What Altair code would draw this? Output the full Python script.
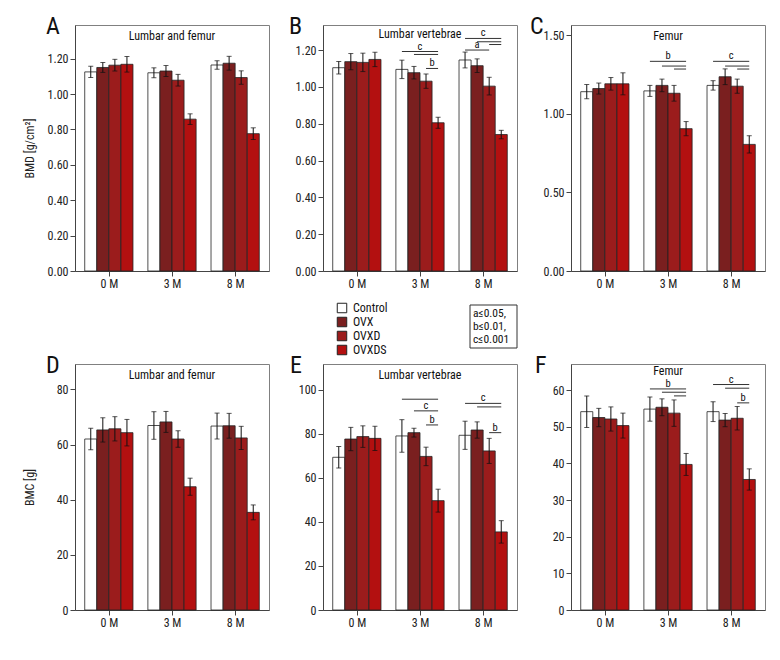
import altair as alt
import pandas as pd

# ---------------- data ----------------
times = ["0 M", "3 M", "8 M"]
groups = ["Control", "OVX", "OVXD", "OVXDS"]
colors = ["#ffffff", "#7a1f1f", "#9b1c1c", "#b31010"]

# means / errors: one list per time point, values in order of `groups`
A_mean = [[1.125, 1.150, 1.163, 1.168], [1.120, 1.130, 1.078, 0.858], [1.164, 1.174, 1.093, 0.776]]
A_err = [[0.032, 0.028, 0.033, 0.044], [0.028, 0.031, 0.033, 0.030], [0.024, 0.039, 0.038, 0.033]]
B_mean = [[1.104, 1.137, 1.133, 1.149], [1.095, 1.077, 1.031, 0.805], [1.146, 1.115, 1.004, 0.741]]
B_err = [[0.034, 0.044, 0.050, 0.039], [0.050, 0.034, 0.039, 0.030], [0.043, 0.037, 0.048, 0.023]]
C_mean = [[1.140, 1.160, 1.190, 1.190], [1.145, 1.180, 1.130, 0.905], [1.180, 1.235, 1.175, 0.805]]
C_err = [[0.045, 0.035, 0.040, 0.070], [0.035, 0.040, 0.050, 0.045], [0.030, 0.050, 0.045, 0.055]]
D_mean = [[62.0, 65.3, 65.7, 64.3], [66.9, 68.2, 62.0, 44.7], [66.7, 66.8, 62.4, 35.4]]
D_err = [[3.9, 4.4, 4.4, 4.8], [5.0, 3.8, 3.0, 3.1], [4.7, 4.5, 4.2, 2.7]]
E_mean = [[69.4, 77.7, 78.8, 78.0], [79.1, 80.6, 69.8, 49.7], [79.4, 81.8, 72.3, 35.5]]
E_err = [[4.9, 5.3, 4.9, 5.5], [7.4, 2.0, 4.2, 5.2], [6.4, 3.7, 5.7, 5.1]]
F_mean = [[54.1, 52.5, 52.1, 50.3], [54.8, 55.3, 53.7, 39.7], [54.1, 51.8, 52.3, 35.6]]
F_err = [[4.3, 2.5, 3.3, 3.4], [3.3, 2.3, 3.6, 3.0], [2.7, 1.8, 3.2, 2.9]]

# significance brackets: (time, from group, to group, level)
A_lines = []
A_letters = []
B_lines = [("3 M", "Control", "OVXDS", 1.192), ("3 M", "OVX", "OVXDS", 1.176), ("3 M", "OVXD", "OVXDS", 1.100),
           ("8 M", "Control", "OVXDS", 1.263), ("8 M", "OVX", "OVXDS", 1.245), ("8 M", "OVXD", "OVXDS", 1.230),
           ("8 M", "Control", "OVXD", 1.200)]
B_letters = [("3 M", "Control", "OVXDS", 1.192, "c"), ("3 M", "OVXD", "OVXDS", 1.100, "b"),
             ("8 M", "Control", "OVXDS", 1.263, "c"), ("8 M", "Control", "OVXD", 1.200, "a")]
C_lines = [("3 M", "Control", "OVXDS", 1.333), ("3 M", "OVX", "OVXDS", 1.303), ("3 M", "OVXD", "OVXDS", 1.284),
           ("8 M", "Control", "OVXDS", 1.333), ("8 M", "OVX", "OVXDS", 1.303), ("8 M", "OVXD", "OVXDS", 1.284)]
C_letters = [("3 M", "Control", "OVXDS", 1.333, "b"), ("8 M", "Control", "OVXDS", 1.333, "c")]
D_lines = []
D_letters = []
E_lines = [("3 M", "Control", "OVXDS", 95.8), ("3 M", "OVX", "OVXDS", 90.5), ("3 M", "OVXD", "OVXDS", 84.1),
           ("8 M", "Control", "OVXDS", 93.9), ("8 M", "OVX", "OVXDS", 92.3), ("8 M", "OVXD", "OVXDS", 80.6)]
E_letters = [("3 M", "OVX", "OVXDS", 90.5, "c"), ("3 M", "OVXD", "OVXDS", 84.1, "b"),
             ("8 M", "Control", "OVXDS", 93.9, "c"), ("8 M", "OVXD", "OVXDS", 80.6, "b")]
F_lines = [("3 M", "Control", "OVXDS", 60.3), ("3 M", "OVX", "OVXDS", 59.4), ("3 M", "OVXD", "OVXDS", 58.4),
           ("8 M", "Control", "OVXDS", 61.5), ("8 M", "OVX", "OVXDS", 60.5), ("8 M", "OVXD", "OVXDS", 56.5)]
F_letters = [("3 M", "Control", "OVXDS", 60.3, "b"), ("8 M", "Control", "OVXDS", 61.5, "c"),
             ("8 M", "OVXD", "OVXDS", 56.5, "b")]

note_lines = ["a\u22640.05,", "b\u22640.01,", "c\u22640.001"]

# ---------------- styling ----------------
FONT = "Roboto Condensed, Roboto, Liberation Sans, sans-serif"
W, H = 194, 246
BW = 0.191
XDOM = [-0.536, 2.536]


def center(t, g):
    return times.index(t) + (groups.index(g) - 1.5) * BW


def bars_df(mean, err):
    rows = []
    for ti, t in enumerate(times):
        for gi, g in enumerate(groups):
            c = center(t, g)
            m, e = mean[ti][gi], err[ti][gi]
            rows.append(dict(time=t, group=g, x0=c - BW / 2, x1=c + BW / 2, xc=c,
                             mean=m, lo=m - e, hi=m + e))
    return pd.DataFrame(rows)


label_expr = "[" + ",".join("'%s'" % t for t in times) + "][datum.value]"


def panel(letter, letter_x, subtitle, sub_y, mean, err, ydom, yvals, yfmt, ytitle, lines, letters,
          legend=False, note=False):
    df = bars_df(mean, err)
    xs = alt.Scale(domain=XDOM, nice=False, zero=False)
    xa = alt.Axis(values=[0, 1, 2], labelExpr=label_expr, title=None, grid=False)
    ys = alt.Scale(domain=ydom, nice=False, zero=True)
    if ytitle:
        ya = alt.Axis(values=yvals, format=yfmt, grid=False, title=ytitle,
                      titleX=-46, titleY=H / 2, titleAngle=-90, titleAlign="center",
                      titleBaseline="middle")
    else:
        ya = alt.Axis(values=yvals, format=yfmt, grid=False, title=None)

    def X(f):
        return alt.X(f, type="quantitative", scale=xs, axis=xa)

    def Y(f):
        return alt.Y(f, type="quantitative", scale=ys, axis=ya)

    if legend:
        leg = alt.Legend(orient="none", legendX=13, legendY=277, title=None,
                         symbolType="square", symbolSize=90, symbolStrokeColor="#222",
                         symbolStrokeWidth=1, labelFontSize=12, labelFont=FONT,
                         rowPadding=0, padding=0, labelOffset=5, symbolOpacity=1,
                         labelColor="#111")
        color = alt.Color("group:N", scale=alt.Scale(domain=groups, range=colors), legend=leg)
    else:
        color = alt.Color("group:N", scale=alt.Scale(domain=groups, range=colors), legend=None)

    bars = alt.Chart(df).mark_bar(stroke="#222", strokeWidth=0.8).encode(
        x=X("x0"), x2="x1", y=Y("mean"), y2=alt.datum(0), color=color)
    err_rule = alt.Chart(df).mark_rule(color="#111", strokeWidth=1).encode(
        x=X("xc"), y=Y("lo"), y2="hi")
    cap_hi = alt.Chart(df).mark_tick(orient="horizontal", size=5, thickness=1, color="#111").encode(
        x=X("xc"), y=Y("hi"))
    cap_lo = alt.Chart(df).mark_tick(orient="horizontal", size=5, thickness=1, color="#111").encode(
        x=X("xc"), y=Y("lo"))
    layers = [bars, err_rule, cap_hi, cap_lo]

    if lines:
        ldf = pd.DataFrame([dict(xa=center(t, a), xb=center(t, b), lvl=v) for t, a, b, v in lines])
        layers.append(alt.Chart(ldf).mark_rule(color="#333", strokeWidth=1).encode(
            x=X("xa"), x2="xb", y=Y("lvl")))
    if letters:
        tdf = pd.DataFrame([dict(xm=(center(t, a) + center(t, b)) / 2, lvl=v, letter=s)
                            for t, a, b, v, s in letters])
        layers.append(alt.Chart(tdf).mark_text(fontSize=10.5, font=FONT, baseline="bottom", dy=0,
                                               color="#111").encode(
            x=X("xm"), y=Y("lvl"), text="letter:N"))

    one = pd.DataFrame({"k": [0]})
    layers.append(alt.Chart(one).mark_text(fontSize=12, font=FONT, baseline="middle",
                                           align="center", color="#111").encode(
        x=alt.value(W / 2), y=alt.value(sub_y), text=alt.value(subtitle)))
    layers.append(alt.Chart(one).mark_text(fontSize=24, font=FONT, baseline="alphabetic",
                                           align="left", color="#111").encode(
        x=alt.value(letter_x), y=alt.value(9), text=alt.value(letter)))
    if note:
        layers.append(alt.Chart(one).mark_rect(fill="white", stroke="#333", strokeWidth=1).encode(
            x=alt.value(147), x2=alt.value(194), y=alt.value(280), y2=alt.value(323)))
        layers.append(alt.Chart(one).mark_text(fontSize=11.5, font=FONT, baseline="top",
                                               align="left", lineHeight=13, color="#111").encode(
            x=alt.value(150), y=alt.value(283), text=alt.value(note_lines)))
    return alt.layer(*layers).properties(width=W, height=H)


bmd_vals = [0, 0.2, 0.4, 0.6, 0.8, 1.0, 1.2]
pA = panel("A", -29, "Lumbar and femur", 11, A_mean, A_err, [0, 1.39], bmd_vals, ".2f",
           "BMD [g/cm\u00b2]", A_lines, A_letters)
pB = panel("B", -34, "Lumbar vertebrae", 9, B_mean, B_err, [0, 1.336], bmd_vals, ".2f",
           None, B_lines, B_letters, legend=True, note=True)
pC = panel("C", -41, "Femur", 11, C_mean, C_err, [0, 1.564], [0, 0.5, 1.0, 1.5], ".2f",
           None, C_lines, C_letters)
pD = panel("D", -29, "Lumbar and femur", 11, D_mean, D_err, [0, 89.2], [0, 20, 40, 60, 80], "d",
           "BMC [g]", D_lines, D_letters)
pE = panel("E", -33, "Lumbar vertebrae", 11, E_mean, E_err, [0, 111.8], [0, 20, 40, 60, 80, 100], "d",
           None, E_lines, E_letters)
pF = panel("F", -36, "Femur", 7, F_mean, F_err, [0, 67.1], [0, 10, 20, 30, 40, 50, 60], "d",
           None, F_lines, F_letters)

chart = alt.concat(pA, pB, pC, pD, pE, pF, columns=3,
                   spacing={"row": 93, "column": 54}, bounds="flush").resolve_scale(
    color="independent", x="independent", y="independent"
).properties(
    padding={"left": 14, "top": 6, "right": 5, "bottom": 5}, background="white"
).configure_view(
    stroke="#808080", strokeWidth=1
).configure_axis(
    labelFont=FONT, labelFontSize=12, labelColor="#222", titleFont=FONT, titleFontSize=12,
    titleFontWeight="normal", titleColor="#222", tickColor="#444", domainColor="#444",
    tickSize=5, labelPadding=2
)

chart.save("out.html", embed_options={"renderer": "svg", "actions": False})
